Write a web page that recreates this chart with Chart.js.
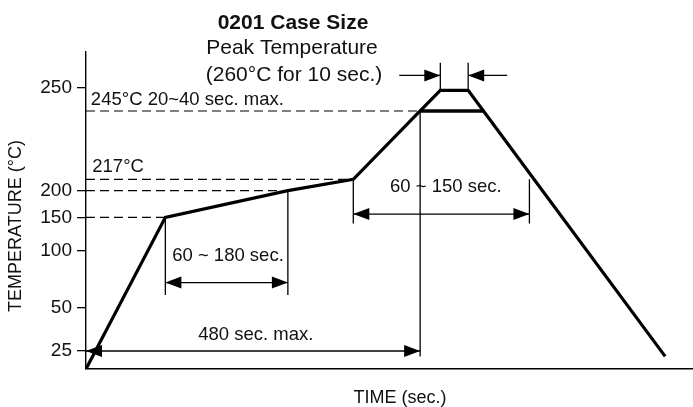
<!DOCTYPE html>
<html>
<head>
<meta charset="utf-8">
<script src="https://cdn.jsdelivr.net/npm/chart.js"></script>
<style>
  body { margin: 0; background: #fff; }
</style>
</head>
<body>
<canvas id="reflow" width="693" height="407"></canvas>
<script>
// reflow profile: time in sec, temperature in °C (the drawing is not to scale)
const profileTime = [0, 114, 290, 384, 480, 509, 549, 571, 832];
const profileTemp = [15, 150, 200, 217, 245, 249.5, 249.5, 245, 22];

// bold bar at 245°C
const liquidusTime = [480, 571];
const liquidusTemp = 245;

// dashed guides from the axis
const guideTemp = [245, 217, 200, 150];
const guideEnd = [480, 384, 290, 114];

// thin vertical markers
const markerTime = [114, 290, 384, 637, 480, 509, 549];
const markerFrom = [150, 200, 217, 217, 245, 249.5, 249.5];
const markerTo = [61, 61, 141, 141, 22, 264, 264];

// dimension arrows
const arrowFrom = [114, 384, 0, 450, 605];
const arrowTo = [290, 637, 480, 509, 549];
const arrowTemp = [72, 156, 25, 257, 257];
const arrowBoth = [true, true, true, false, false];

// labels inside the plot
const labelText = ["245°C 20~40 sec. max.", "217°C", "60 ~ 180 sec.", "60 ~ 150 sec.", "480 sec. max."];
const labelTime = [7, 9, 204, 517, 244];
const labelTemp = [247.5, 222.2, 95.6, 205.5, 34];
const labelAlign = ["left", "left", "center", "center", "center"];

const tempTicks = [25, 50, 100, 150, 200, 250];

// the temperature axis is stretched unevenly in the drawing
const axisTemp = [15, 25, 50, 100, 150, 200, 217, 245, 250, 270];
const axisFrac = [0, 0.0568, 0.1946, 0.3722, 0.4785, 0.5625, 0.5984, 0.8139, 0.8864, 1];

function tempToFrac(t) {
  for (let i = 1; i < axisTemp.length; i++) {
    if (t <= axisTemp[i] || i === axisTemp.length - 1) {
      const k = (t - axisTemp[i - 1]) / (axisTemp[i] - axisTemp[i - 1]);
      return axisFrac[i - 1] + k * (axisFrac[i] - axisFrac[i - 1]);
    }
  }
}
function fracToTemp(f) {
  for (let i = 1; i < axisFrac.length; i++) {
    if (f <= axisFrac[i] || i === axisFrac.length - 1) {
      const k = (f - axisFrac[i - 1]) / (axisFrac[i] - axisFrac[i - 1]);
      return axisTemp[i - 1] + k * (axisTemp[i] - axisTemp[i - 1]);
    }
  }
}

class BrokenScale extends Chart.LinearScale {
  buildTicks() { return tempTicks.map(v => ({ value: v })); }
  getPixelForValue(value) { return this.getPixelForDecimal(tempToFrac(value)); }
  getValueForPixel(pixel) { return fracToTemp(this.getDecimalForPixel(pixel)); }
}
BrokenScale.id = "broken";
BrokenScale.defaults = Chart.LinearScale.defaults;
Chart.register(BrokenScale);

const FONT = "'Liberation Sans', Arial, Helvetica, sans-serif";
const INK = "#111";

function seg(x1, y1, x2, y2) {
  return [{ x: x1, y: y1 }, { x: x2, y: y2 }];
}

const datasets = [];
datasets.push({
  data: profileTime.map((t, i) => ({ x: t, y: profileTemp[i] })),
  borderColor: "#000", borderWidth: 3.2
});
datasets.push({
  data: seg(liquidusTime[0], liquidusTemp, liquidusTime[1], liquidusTemp),
  borderColor: "#000", borderWidth: 3.5
});
guideTemp.forEach((t, i) => {
  datasets.push({
    data: seg(0, t, guideEnd[i], t),
    borderColor: "#000", borderWidth: 1.2, borderDash: [9, 5]
  });
});
markerTime.forEach((t, i) => {
  datasets.push({
    data: seg(t, markerFrom[i], t, markerTo[i]),
    borderColor: "#000", borderWidth: 1.3
  });
});

function arrowHead(ctx, x, y, dir) {
  ctx.beginPath();
  ctx.moveTo(x, y);
  ctx.lineTo(x - dir * 16, y - 6);
  ctx.lineTo(x - dir * 16, y + 6);
  ctx.closePath();
  ctx.fill();
}

const notes = {
  id: "notes",
  afterDatasetsDraw(chart) {
    const { ctx, scales: { x, y } } = chart;
    ctx.save();
    ctx.strokeStyle = "#000";
    ctx.fillStyle = "#000";
    ctx.lineWidth = 1.3;
    arrowFrom.forEach((a, i) => {
      const x1 = x.getPixelForValue(a);
      const x2 = x.getPixelForValue(arrowTo[i]);
      const py = y.getPixelForValue(arrowTemp[i]);
      ctx.beginPath();
      ctx.moveTo(x1, py);
      ctx.lineTo(x2, py);
      ctx.stroke();
      const dir = x2 > x1 ? 1 : -1;
      arrowHead(ctx, x2, py, dir);
      if (arrowBoth[i]) arrowHead(ctx, x1, py, -dir);
    });

    ctx.fillStyle = INK;
    ctx.font = "18.5px " + FONT;
    ctx.textBaseline = "middle";
    labelText.forEach((txt, i) => {
      ctx.textAlign = labelAlign[i];
      ctx.fillText(txt, x.getPixelForValue(labelTime[i]), y.getPixelForValue(labelTemp[i]));
    });
    ctx.restore();
  },
  afterDraw(chart) {
    const ctx = chart.ctx;
    ctx.save();
    ctx.fillStyle = INK;
    ctx.textAlign = "center";
    ctx.textBaseline = "middle";
    ctx.font = "bold 21px " + FONT;
    ctx.fillText("0201 Case Size", 293, 23);
    ctx.font = "21px " + FONT;
    ctx.fillText("Peak Temperature", 292, 48);
    ctx.fillText("(260°C for 10 sec.)", 294, 75);
    ctx.font = "18px " + FONT;
    ctx.fillText("TIME (sec.)", 400, 398);
    ctx.translate(16.5, 226);
    ctx.rotate(-Math.PI / 2);
    ctx.fillText("TEMPERATURE (°C)", 0, 0);
    ctx.restore();
  }
};

new Chart(document.getElementById("reflow"), {
  type: "line",
  data: { datasets: datasets },
  options: {
    responsive: false,
    animation: false,
    events: [],
    layout: { padding: { top: 52, left: 0, right: 0, bottom: 0 } },
    elements: { point: { radius: 0 }, line: { tension: 0, borderJoinStyle: "miter" } },
    plugins: { legend: { display: false }, tooltip: { enabled: false } },
    scales: {
      x: {
        type: "linear",
        min: 0,
        max: 872,
        grid: { display: false },
        border: { display: true, color: "#000", width: 1.4 },
        ticks: { display: false },
        afterFit: s => { s.height = 38; }
      },
      y: {
        type: "broken",
        min: 15,
        max: 270,
        grid: { display: true, drawOnChartArea: false, drawTicks: true, tickLength: 9, color: "#000", lineWidth: 1.3 },
        border: { display: true, color: "#000", width: 1.4 },
        ticks: { autoSkip: false, padding: 5, color: INK, font: { family: FONT, size: 19 } },
        afterFit: s => { s.width = 86; }
      }
    }
  },
  plugins: [notes]
});
</script>
</body>
</html>
